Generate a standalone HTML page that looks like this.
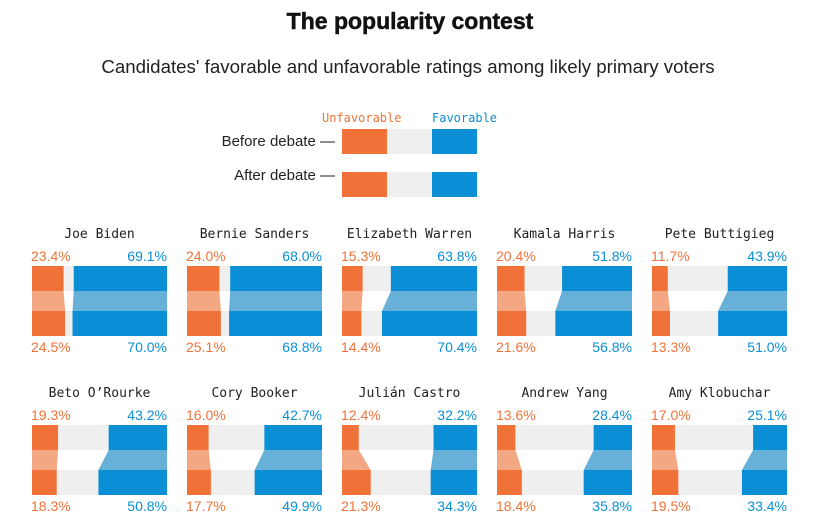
<!DOCTYPE html>
<html><head><meta charset="utf-8"><style>
body{margin:0;background:#fff;width:825px;height:531px;overflow:hidden}
svg{display:block}
.mono{font-family:"DejaVu Sans Mono","Liberation Mono",monospace}
.sans{font-family:"Liberation Sans",sans-serif}
</style></head><body>
<svg id="c" width="825" height="531">
<text x="410" y="29" text-anchor="middle" class="sans" font-size="23" font-weight="bold" fill="#111" stroke="#111" stroke-width="0.5">The popularity contest</text>
<text x="408" y="73" text-anchor="middle" class="sans" font-size="18.7" fill="#222">Candidates' favorable and unfavorable ratings among likely primary voters</text>
<g>
<text x="322" y="122" class="mono" font-size="12" fill="#f07238">Unfavorable</text>
<text x="432" y="122" class="mono" font-size="12" fill="#0a8fd6">Favorable</text>
<text x="335" y="146" text-anchor="end" class="sans" font-size="15" fill="#222">Before debate —</text>
<text x="335" y="180" text-anchor="end" class="sans" font-size="15" fill="#222">After debate —</text>
<rect x="342" y="129" width="45" height="25" fill="#f07238"/>
<rect x="387" y="129" width="45" height="25" fill="#efefef"/>
<rect x="432" y="129" width="45" height="25" fill="#0a8fd6"/>
<rect x="342" y="172" width="45" height="25" fill="#f07238"/>
<rect x="387" y="172" width="45" height="25" fill="#efefef"/>
<rect x="432" y="172" width="45" height="25" fill="#0a8fd6"/>
</g>
</svg>
<script>
const candidates=["Joe Biden","Bernie Sanders","Elizabeth Warren","Kamala Harris","Pete Buttigieg","Beto O’Rourke","Cory Booker","Julián Castro","Andrew Yang","Amy Klobuchar"];
const unfavBefore=[23.4,24.0,15.3,20.4,11.7,19.3,16.0,12.4,13.6,17.0];
const unfavAfter=[24.5,25.1,14.4,21.6,13.3,18.3,17.7,21.3,18.4,19.5];
const favBefore=[69.1,68.0,63.8,51.8,43.9,43.2,42.7,32.2,28.4,25.1];
const favAfter=[70.0,68.8,70.4,56.8,51.0,50.8,49.9,34.3,35.8,33.4];
const svg=document.getElementById('c');
const NS='http://www.w3.org/2000/svg';
const W=135;
const sx=v=>v/100*W;
function mk(tag,attrs,parent){const e=document.createElementNS(NS,tag);for(const k in attrs)e.setAttribute(k,attrs[k]);parent.appendChild(e);return e;}
candidates.forEach((name,i)=>{
  const col=i%5,row=Math.floor(i/5);
  const x0=32+col*155,y0=266+row*159;
  const g=mk('g',{},svg);
  
  
  const t=mk('text',{x:x0+W/2,y:y0-28,'text-anchor':'middle',class:'mono','font-size':13,fill:'#222'},g);t.textContent=name;
  
  
  const ub=sx(unfavBefore[i]),ua=sx(unfavAfter[i]),fb=sx(favBefore[i]),fa=sx(favAfter[i]);
  let r=mk('rect',{x:x0,y:y0,width:W,height:25,fill:'#efefef'},g);
  
  
  r=mk('rect',{x:x0,y:y0+45,width:W,height:25,fill:'#efefef'},g);
  
  
  r=mk('rect',{x:x0,y:y0,width:ub,height:25,fill:'#f07238'},g);
  
  
  r=mk('rect',{x:x0+W-fb,y:y0,width:fb,height:25,fill:'#0a8fd6'},g);
  
  
  r=mk('rect',{x:x0,y:y0+45,width:ua,height:25,fill:'#f07238'},g);
  
  
  r=mk('rect',{x:x0+W-fa,y:y0+45,width:fa,height:25,fill:'#0a8fd6'},g);
  
  
  let p=mk('polygon',{points:`${x0},${y0+25} ${x0+ub},${y0+25} ${x0+ua},${y0+45} ${x0},${y0+45}`,fill:'#f4a783'},g);
  
  
  p=mk('polygon',{points:`${x0+W-fb},${y0+25} ${x0+W},${y0+25} ${x0+W},${y0+45} ${x0+W-fa},${y0+45}`,fill:'#67b0d8'},g);
  
  
  const lab=(x,y,anc,col,txt,nm)=>{const e=mk('text',{x,y,'text-anchor':anc,class:'sans','font-size':14,fill:col},g);e.textContent=txt;
    
    };
  lab(x0-1,y0-5,'start','#f07238',unfavBefore[i].toFixed(1)+'%','unfavorable-before-label');
  lab(x0+W,y0-5,'end','#0a8fd6',favBefore[i].toFixed(1)+'%','favorable-before-label');
  lab(x0-1,y0+86,'start','#f07238',unfavAfter[i].toFixed(1)+'%','unfavorable-after-label');
  lab(x0+W,y0+86,'end','#0a8fd6',favAfter[i].toFixed(1)+'%','favorable-after-label');
});
</script>
</body></html>
